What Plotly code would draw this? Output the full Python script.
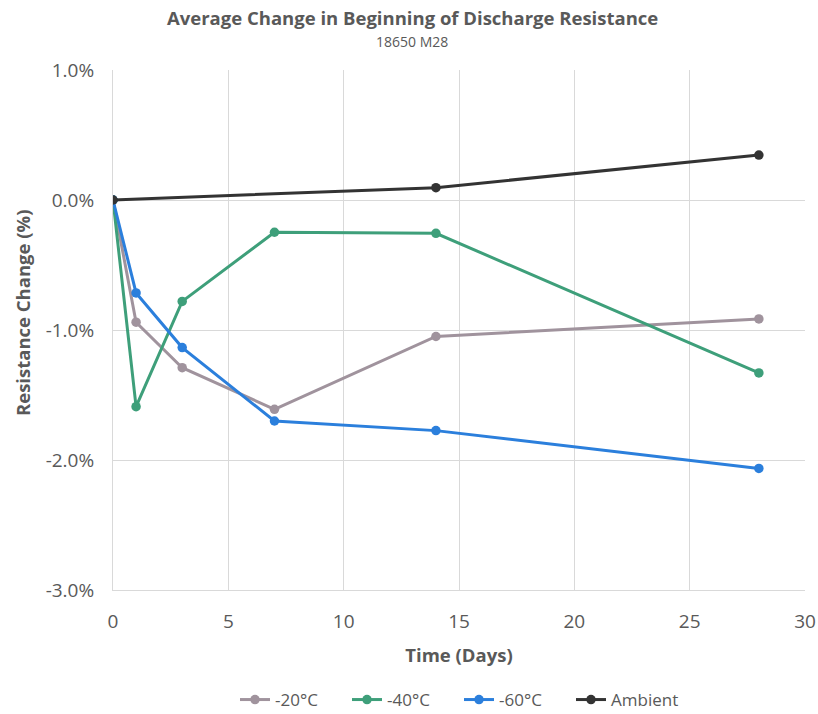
import plotly.graph_objects as go

# Resistance change at beginning of discharge, 18650 M28 cells
days = [0, 1, 3, 7, 14, 28]
minus20 = [0.0, -0.94, -1.29, -1.61, -1.05, -0.915]
minus40 = [0.0, -1.59, -0.78, -0.248, -0.256, -1.33]
minus60 = [0.0, -0.715, -1.135, -1.70, -1.774, -2.065]
ambient_days = [0, 14, 28]
ambient = [0.0, 0.095, 0.346]

series = [
    ("-20°C", days, minus20, "#A0939D"),
    ("-40°C", days, minus40, "#3E9F7A"),
    ("-60°C", days, minus60, "#2B7FDC"),
    ("Ambient", ambient_days, ambient, "#333333"),
]

x_ticks = [0, 5, 10, 15, 20, 25, 30]
y_ticks = [1.0, 0.0, -1.0, -2.0, -3.0]

font_family = "'Open Sans', sans-serif"
grey_text = "#595959"
grid = "#D9D9D9"

# plot area in pixels
L, R, T, B = 113, 13, 70, 124
W, H = 818, 714
PW, PH = W - L - R, H - T - B

fig = go.Figure()
for name, xs, ys, color in series:
    fig.add_trace(go.Scatter(
        x=xs, y=ys, name=name, mode="lines+markers",
        line=dict(color=color, width=3),
        marker=dict(color=color, size=9.5),
    ))

fig.update_layout(
    width=W, height=H,
    margin=dict(l=L, r=R, t=T, b=B, autoexpand=False),
    paper_bgcolor="white", plot_bgcolor="white",
    font=dict(family=font_family, color=grey_text, size=16),
    showlegend=True,
    legend=dict(orientation="h", x=0.5, xanchor="center",
                y=(T + PH - 700) / PH, yanchor="middle",
                entrywidth=67, entrywidthmode="pixels",
                font=dict(size=17, color=grey_text)),
    annotations=[
        dict(text="<b>Average Change in Beginning of Discharge Resistance</b>",
             x=(412 - L) / PW, xref="paper", y=1 + (T - 18) / PH, yref="paper",
             yanchor="middle", showarrow=False,
             font=dict(size=18.5, color=grey_text)),
        dict(text="18650 M28",
             x=(412 - L) / PW, xref="paper", y=1 + (T - 42) / PH, yref="paper",
             yanchor="middle", showarrow=False,
             font=dict(size=14, color=grey_text)),
        dict(text="<b>Resistance Change (%)</b>", textangle=-90,
             x=(22 - L) / PW, xref="paper", xanchor="center",
             y=(T + PH - 313) / PH, yref="paper", yanchor="middle",
             showarrow=False, font=dict(size=18.5, color=grey_text)),
    ],
)

fig.update_xaxes(
    range=[0, 30], tickvals=x_ticks, ticktext=[str(v) for v in x_ticks],
    showgrid=True, gridcolor=grid, gridwidth=1,
    showline=True, linecolor=grid, linewidth=1,
    zeroline=False, ticks="", ticklabelstandoff=14,
    tickfont=dict(size=19),
    title=dict(text="<b>Time (Days)</b>", font=dict(size=18.5, color=grey_text), standoff=16),
)
fig.update_yaxes(
    range=[-3.0, 1.0], tickvals=y_ticks, ticktext=[f"{v:.1f}%" for v in y_ticks],
    showgrid=True, gridcolor=grid, gridwidth=1,
    showline=True, linecolor=grid, linewidth=1,
    zeroline=False, ticks="", ticklabelstandoff=14,
    tickfont=dict(size=19),
)

fig.write_html("out.html")
